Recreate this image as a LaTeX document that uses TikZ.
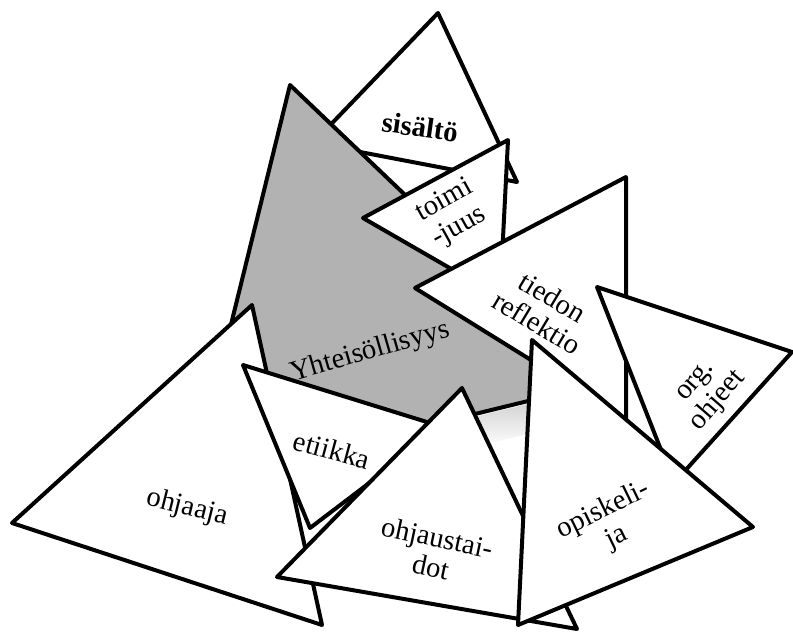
\documentclass[tikz,border=0pt]{standalone}
\usepackage{fontspec}
\setmainfont{Liberation Serif}
\begin{document}
\begin{tikzpicture}[x=0.75pt,y=-0.75pt,
  tri/.style={draw=black,line width=3pt,line join=round,fill=white},
  lbl/.style={align=center,inner sep=0pt,font=\fontsize{21.5}{22.5}\selectfont}]
        \useasboundingbox (0,0) rectangle (793,632);
		% back row
		\draw[tri] (438,13) -- (517,182) -- (313,143) -- cycle;
		\node[lbl,rotate=-8,font=\fontsize{21.5}{22}\selectfont\bfseries] (sisalto) at (420,127) {sisältö};
		\shade[top color=black!18,bottom color=white] (470,418) -- (540,401) -- (540,431) -- (470,448) -- cycle;
		\draw[tri][fill=black!30] (290,85) -- (602,383) -- (192,483) -- cycle;
		\node[lbl,rotate=16] (yhteis) at (370,352) {Yhteisöllisyys};
		\draw[tri] (363,218) -- (508,140) -- (500,297) -- cycle;
		\node[lbl,rotate=29] (toimijuus) at (452,214) {toimi\\-juus};
		\draw[tri] (415,288) -- (626,177) -- (626,419) -- cycle;
		\node[lbl,rotate=-31] (tiedon) at (545,310) {tiedon\\reflektio};
		\draw[tri] (597,287) -- (792,352) -- (674,483) -- cycle;
		\node[lbl,rotate=49] (org) at (708,392) {org.\\ohjeet};
		% front row
		\draw[tri] (12,523) -- (252,305) -- (322,625) -- cycle;
		\node[lbl,rotate=-14] (ohjaaja) at (187,508) {ohjaaja};
		\draw[tri] (243,365) -- (443,427) -- (310,528) -- cycle;
		\node[lbl,rotate=-15] (etiikka) at (332,450) {etiikka};
		\draw[tri] (462,388) -- (577,629) -- (277,577) -- cycle;
		\node[lbl,rotate=-12] (taidot) at (434,552) {ohjaustai-\\dot};
		\draw[tri] (532,340) -- (753,527) -- (518,625) -- cycle;
		\node[lbl,rotate=26] (opiskelija) at (610,524) {opiskeli-\\ja};
\end{tikzpicture}
\end{document}
